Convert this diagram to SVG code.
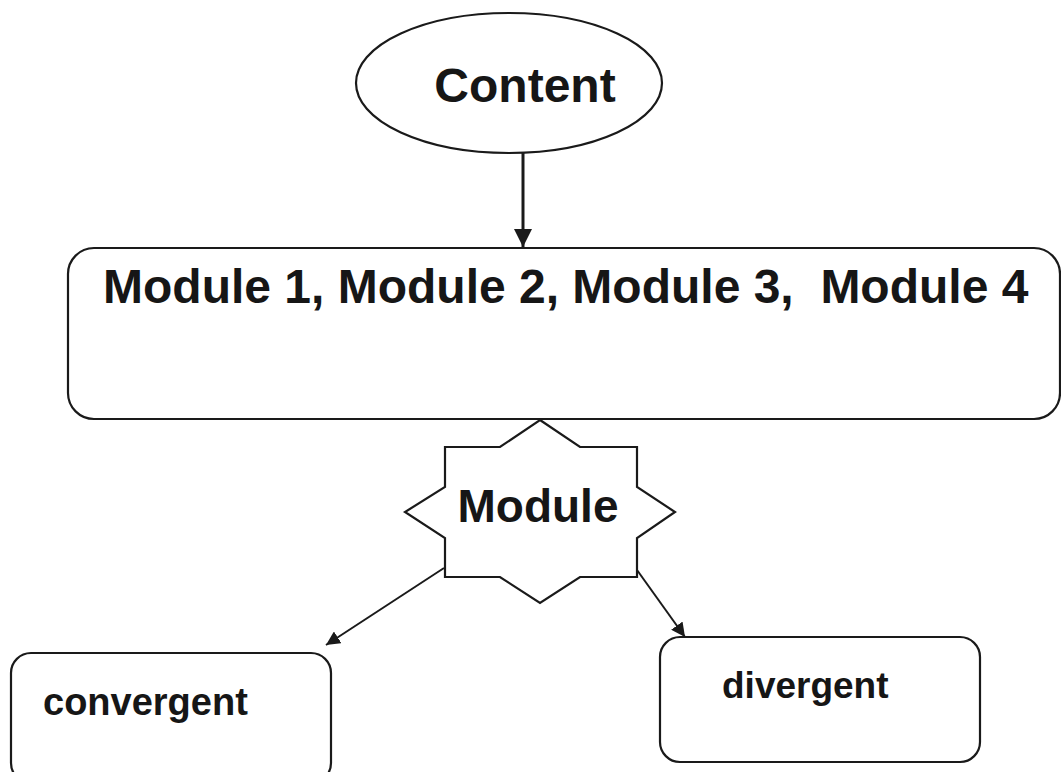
<svg xmlns="http://www.w3.org/2000/svg" width="1061" height="772" viewBox="0 0 1061 772">
  <style>
    .shape { fill: #ffffff; stroke: #1a1a1a; stroke-width: 2.2; }
    .label { font-family: "Liberation Sans", Arial, sans-serif; font-weight: bold; fill: #161616; }
    .edge { stroke: #1a1a1a; fill: none; }
  </style>
  <defs>
    <marker id="headBig" viewBox="0 0 10 10" refX="10" refY="5" markerWidth="6" markerHeight="6" markerUnits="strokeWidth" orient="auto">
      <path d="M0,0 L10,5 L0,10 Z" fill="#1a1a1a"/>
    </marker>
    <marker id="headSmall" viewBox="0 0 10 10" refX="10" refY="5" markerWidth="7" markerHeight="7" markerUnits="strokeWidth" orient="auto">
      <path d="M0,0 L10,5 L0,10 Z" fill="#1a1a1a"/>
    </marker>
  </defs>
  <rect width="1061" height="772" fill="#ffffff"/>

  <g id="content">
    <ellipse class="shape" cx="509" cy="83" rx="153" ry="70"/>
    <text class="label" x="525" y="102" font-size="48" text-anchor="middle">Content</text>
  </g>

  <g id="modules">
    <rect class="shape" x="68" y="248" width="992" height="171" rx="26" ry="26"/>
    <text class="label" x="103" y="303" font-size="48" xml:space="preserve">Module 1, Module 2, Module 3,  Module 4</text>
  </g>

  <g id="module">
    <polygon class="shape" points="540,420 580,447 637,447 637,487 675,512 637,538 637,577 580,577 540,603 500,577 445,577 445,538 405,512 445,487 445,447 500,447"/>
    <text class="label" x="538" y="522" font-size="46" text-anchor="middle">Module</text>
  </g>

  <g id="convergent">
    <rect class="shape" x="11" y="653" width="320" height="130" rx="20" ry="20"/>
    <text class="label" x="43" y="715" font-size="38">convergent</text>
  </g>

  <g id="divergent">
    <rect class="shape" x="660" y="637" width="320" height="125" rx="20" ry="20"/>
    <text class="label" x="722" y="698" font-size="37">divergent</text>
  </g>

  <g id="connectors">
    <line class="edge" x1="523" y1="153" x2="523" y2="247" stroke-width="3" marker-end="url(#headBig)"/>
    <line class="edge" x1="444" y1="568" x2="326" y2="645" stroke-width="2" marker-end="url(#headSmall)"/>
    <line class="edge" x1="637" y1="570" x2="685" y2="637" stroke-width="2" marker-end="url(#headSmall)"/>
  </g>
</svg>
